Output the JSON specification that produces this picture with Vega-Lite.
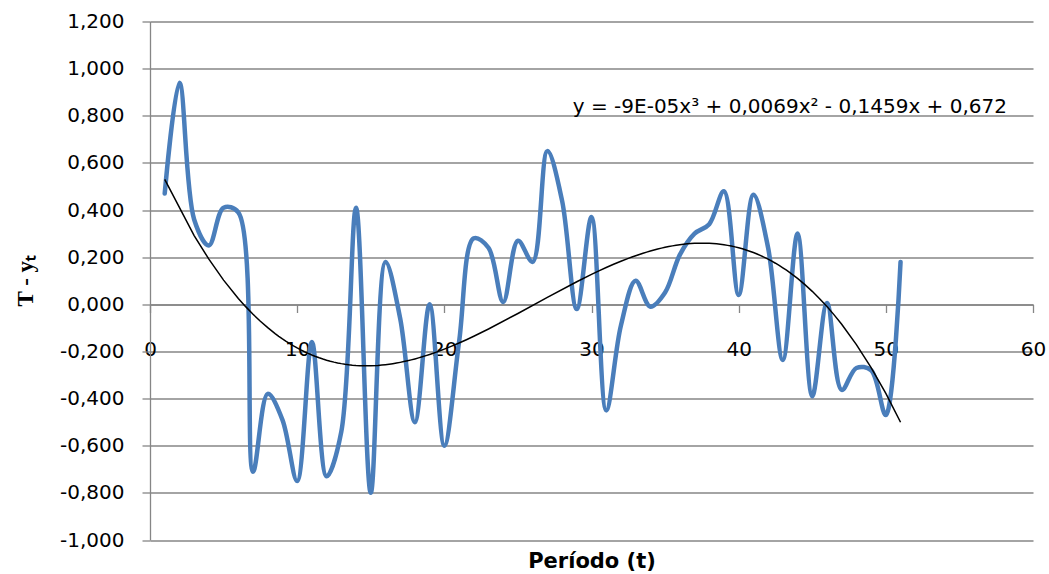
{
  "$schema": "https://vega.github.io/schema/vega-lite/v6.json",
  "width": 883,
  "height": 518.5,
  "autosize": {"type": "none"},
  "padding": {"left": 150, "top": 21.5, "right": 16, "bottom": 34},
  "background": "white",
  "config": {
    "view": {"stroke": null},
    "font": "DejaVu Sans"
  },
  "layer": [
    {
      "data": {"values": [
        {"t": 1, "v": 0.47}, {"t": 2, "v": 0.94}, {"t": 3, "v": 0.36}, {"t": 4, "v": 0.25},
        {"t": 5, "v": 0.41}, {"t": 6, "v": 0.39}, {"t": 7, "v": -0.71}, {"t": 8, "v": -0.38},
        {"t": 9, "v": -0.49}, {"t": 10, "v": -0.75}, {"t": 11, "v": -0.16}, {"t": 12, "v": -0.73},
        {"t": 13, "v": -0.54}, {"t": 14, "v": 0.41}, {"t": 15, "v": -0.8}, {"t": 16, "v": 0.18},
        {"t": 17, "v": -0.06}, {"t": 18, "v": -0.5}, {"t": 19, "v": 0.0}, {"t": 20, "v": -0.6},
        {"t": 21, "v": -0.16}, {"t": 22, "v": 0.28}, {"t": 23, "v": 0.24}, {"t": 24, "v": 0.01},
        {"t": 25, "v": 0.27}, {"t": 26, "v": 0.18}, {"t": 27, "v": 0.65}, {"t": 28, "v": 0.44},
        {"t": 29, "v": -0.02}, {"t": 30, "v": 0.37}, {"t": 31, "v": -0.45}, {"t": 32, "v": -0.09},
        {"t": 33, "v": 0.1}, {"t": 34, "v": -0.01}, {"t": 35, "v": 0.05}, {"t": 36, "v": 0.21},
        {"t": 37, "v": 0.3}, {"t": 38, "v": 0.34}, {"t": 39, "v": 0.48}, {"t": 40, "v": 0.04},
        {"t": 41, "v": 0.465}, {"t": 42, "v": 0.24}, {"t": 43, "v": -0.236}, {"t": 44, "v": 0.3},
        {"t": 45, "v": -0.39}, {"t": 46, "v": 0.006}, {"t": 47, "v": -0.363}, {"t": 48, "v": -0.27},
        {"t": 49, "v": -0.28}, {"t": 50, "v": -0.47}, {"t": 51, "v": 0.18}
      ]},
      "layer": [
        {
          "mark": {"type": "line", "interpolate": "catmull-rom", "color": "#4a7ebb", "strokeWidth": 4.5, "strokeCap": "round", "strokeJoin": "round"},
          "encoding": {
            "x": {
              "field": "t", "type": "quantitative",
              "scale": {"domain": [0, 60], "nice": false, "zero": false},
              "axis": {
                "title": "Período (t)",
                "values": [0, 10, 20, 30, 40, 50, 60],
                "format": "d",
                "grid": false,
                "offset": -235.5,
                "domainColor": "#868686", "domainWidth": 1.3,
                "tickColor": "#868686", "tickWidth": 1.3, "tickSize": 8,
                "labelFont": "DejaVu Sans", "labelFontSize": 20, "labelColor": "#000000",
                "labelPadding": 27,
                "labelFlush": false,
                "titleFont": "DejaVu Sans", "titleFontSize": 21, "titleFontWeight": "bold", "titleColor": "#000000",
                "titlePadding": 191
              }
            },
            "y": {
              "field": "v", "type": "quantitative",
              "scale": {"domain": [-1, 1.2], "nice": false, "zero": false},
              "axis": {
                "title": "T - yₜ",
                "values": [-1, -0.8, -0.6, -0.4, -0.2, 0, 0.2, 0.4, 0.6, 0.8, 1, 1.2],
                "labelExpr": "replace(replace(format(datum.value, '.3f'), '.', ','), '−', '-')",
                "grid": true, "gridColor": "#868686", "gridWidth": 1.3,
                "domainColor": "#868686", "domainWidth": 1.3,
                "tickColor": "#868686", "tickWidth": 1.3, "tickSize": 8,
                "labelFont": "DejaVu Sans", "labelFontSize": 20, "labelColor": "#000000",
                "labelPadding": 18,
                "labelFlush": false,
                "titleFont": "Liberation Serif", "titleFontSize": 23, "titleFontWeight": "bold", "titleColor": "#000000",
                "titlePadding": 22
              }
            }
          }
        },
        {
          "transform": [{"regression": "v", "on": "t", "method": "poly", "order": 3}],
          "mark": {"type": "line", "color": "#000000", "strokeWidth": 1.5},
          "encoding": {
            "x": {"field": "t", "type": "quantitative"},
            "y": {"field": "v", "type": "quantitative"}
          }
        }
      ]
    },
    {
      "data": {"values": [{"t": 43.48, "v": 0.812, "label": "y = -9E-05x³ + 0,0069x² - 0,1459x + 0,672"}]},
      "mark": {"type": "text", "font": "DejaVu Sans", "fontSize": 20, "color": "#000000", "align": "center", "baseline": "alphabetic"},
      "encoding": {
        "x": {"field": "t", "type": "quantitative"},
        "y": {"field": "v", "type": "quantitative"},
        "text": {"field": "label"}
      }
    }
  ]
}
